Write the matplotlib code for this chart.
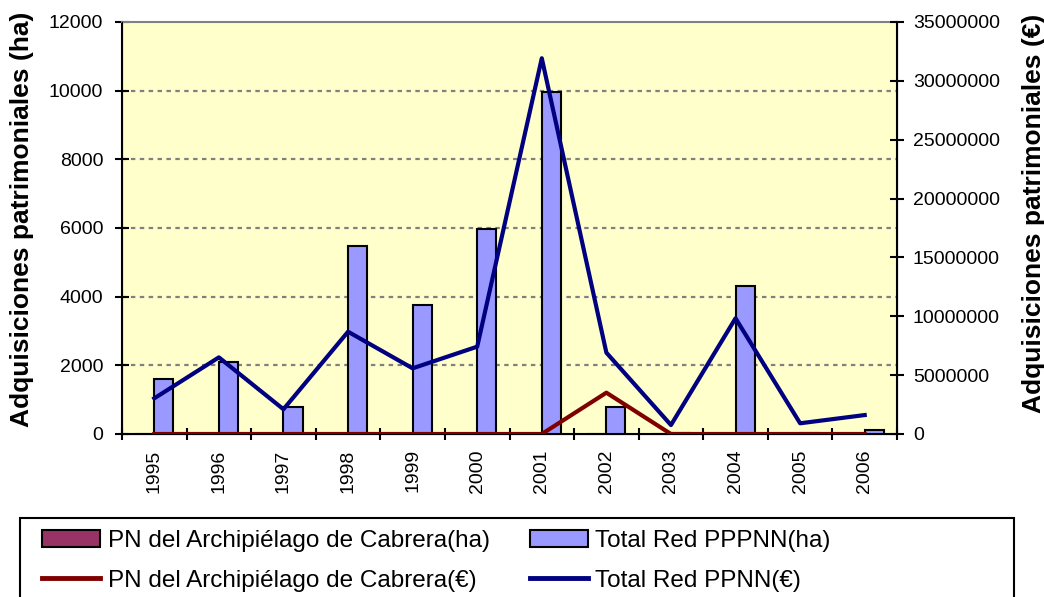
import numpy as np
import matplotlib.pyplot as plt
from matplotlib.patches import Patch, Rectangle
from matplotlib.lines import Line2D

plt.rcParams['font.family'] = ['Liberation Sans', 'DejaVu Sans']

years = ['1995', '1996', '1997', '1998', '1999', '2000',
         '2001', '2002', '2003', '2004', '2005', '2006']
cabrera_ha = [0, 0, 0, 0, 0, 0, 0, 0, 0, 0, 0, 0]
total_ha = [1600, 2090, 780, 5480, 3770, 5960, 9950, 800, 40, 4310, 30, 120]
cabrera_eur = [0, 0, 0, 0, 0, 0, 0, 3510000, 0, 0, 0, 0]
total_eur = [3030000, 6510000, 2100000, 8690000, 5580000, 7420000,
             31920000, 6910000, 760000, 9830000, 910000, 1610000]

W, H = 1044, 597
fig = plt.figure(figsize=(W / 100, H / 100), dpi=100)
ax = fig.add_axes([122 / W, 1 - 434 / H, 775 / W, 412 / H])
ax.set_facecolor('#FFFFCC')

x = np.arange(len(years))
w = 0.295
ax.bar(x - w / 2, cabrera_ha, w, color='#993366', edgecolor='black', linewidth=1.5, zorder=3)
ax.bar(x + w / 2, total_ha, w, color='#9999FF', edgecolor='black', linewidth=1.5, zorder=3)

ax.set_xlim(-0.5, len(years) - 0.5)
ax.set_ylim(0, 12000)
ax.set_yticks(range(0, 12001, 2000))
ax.set_xticks(x)
ax.set_xticklabels(years, rotation=90, fontsize=14)
ax.set_xticks(np.arange(-0.5, len(years)), minor=True)
ax.tick_params(axis='x', which='major', length=0, pad=11)
ax.tick_params(axis='x', which='minor', direction='inout', length=9, width=1.5)
ax.tick_params(axis='y', direction='inout', length=10, width=1.5, labelsize=14, pad=8.5)

for v in range(2000, 12000, 2000):
    ax.axhline(v, color='#808080', linestyle=(0, (2, 2)), linewidth=1.6, zorder=1)

for s in ['left', 'bottom']:
    ax.spines[s].set_linewidth(1.5)
ax.spines['top'].set_color('#808080')
ax.spines['top'].set_linewidth(1.5)
ax.set_ylabel('Adquisiciones patrimoniales (ha)', fontsize=19, fontweight='bold')
ax.yaxis.set_label_coords(-0.1135, 0.522)

ax2 = ax.twinx()
ax2.plot(x, cabrera_eur, color='#800000', linewidth=3, zorder=4)
ax2.plot(x, total_eur, color='#000080', linewidth=3, zorder=5)
ax2.set_ylim(0, 35000000)
ax2.set_yticks(range(0, 35000001, 5000000))
ax2.set_yticklabels([str(v) for v in range(0, 35000001, 5000000)])
ax2.tick_params(axis='y', direction='inout', length=10, width=1.5, labelsize=14, pad=6.5)
ax2.spines['right'].set_linewidth(1.5)
ax2.spines['top'].set_visible(False)
ax2.set_ylabel('Adquisiciones patrimoniales (€)', fontsize=19, fontweight='bold')
ax2.yaxis.set_label_coords(1.161, 0.536)

# legend frame (runs off the bottom edge as in the source)
fig.patches.append(Rectangle((20 / W, -0.05), (1014 - 20) / W, 0.05 + 1 - 518 / H,
                             transform=fig.transFigure, facecolor='white',
                             edgecolor='black', linewidth=1.5))

handles = [
    Patch(facecolor='#993366', edgecolor='black', linewidth=1.5),
    Line2D([0], [0], color='#800000', linewidth=3.5),
    Patch(facecolor='#9999FF', edgecolor='black', linewidth=1.5),
    Line2D([0], [0], color='#000080', linewidth=3.5),
]
labels = ['PN del Archipiélago de Cabrera(ha)', 'PN del Archipiélago de Cabrera(€)',
          'Total Red PPPNN(ha)', 'Total Red PPNN(€)']
leg = fig.legend(handles, labels, ncol=2, loc='upper left',
                 bbox_to_anchor=(42 / W, 1 - 530 / H), fontsize=17.5,
                 frameon=False, handlelength=2.4, handleheight=0.7,
                 handletextpad=0.3, columnspacing=1.65, borderaxespad=0,
                 borderpad=0, labelspacing=0.72)

fig.savefig('out.png', dpi=100)
